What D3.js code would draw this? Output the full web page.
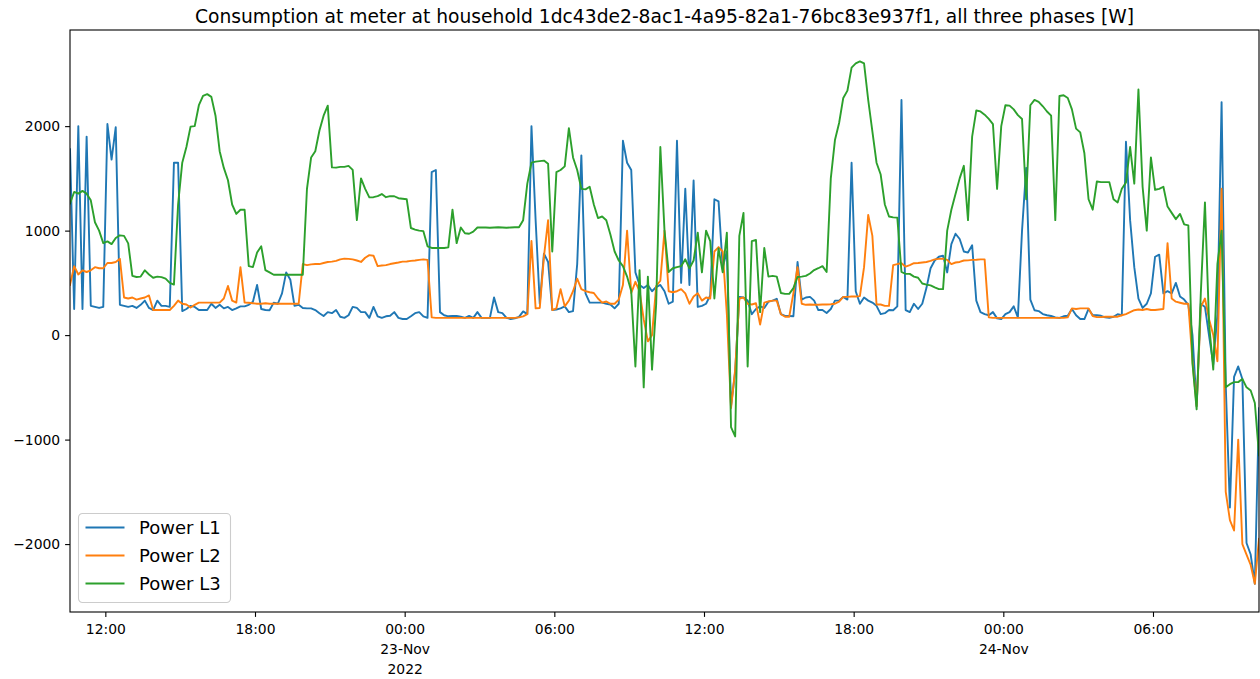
<!DOCTYPE html>
<html>
<head>
<meta charset="utf-8">
<script src="https://cdn.jsdelivr.net/npm/d3@7"></script>
<style>
  html, body { margin: 0; padding: 0; background: #ffffff; }
  svg { display: block; }
  text { font-family: "DejaVu Sans", sans-serif; fill: #000; }
</style>
</head>
<body>
<svg id="chart" width="1260" height="679"></svg>
<script>
// ---------- data ----------
const title = "Consumption at meter at household 1dc43de2-8ac1-4a95-82a1-76bc83e937f1, all three phases [W]";
const seriesNames = ["Power L1", "Power L2", "Power L3"];
const seriesColors = ["#1f77b4", "#ff7f0e", "#2ca02c"];
// samples every 10 minutes starting 2022-11-22 10:35
const startTime = [2022, 10, 22, 10, 35];
const stepMinutes = 10;

const powerL1 = [
  1780, 250, 2000, 250, 1900, 280, 270, 260, 270, 2020,
  1680, 1990, 290, 280, 270, 280, 260, 290, 330, 260,
  240, 330, 280, 280, 270, 1650, 1650, 230, 250, 280,
  270, 240, 240, 240, 300, 260, 290, 256, 270, 240,
  256, 275, 275, 290, 320, 480, 250, 240, 238, 311,
  300, 400, 600, 530, 280, 290, 260, 256, 256, 240,
  210, 183, 220, 210, 240, 176, 165, 190, 270, 260,
  220, 220, 165, 270, 180, 165, 180, 185, 220, 165,
  154, 154, 180, 210, 220, 180, 165, 1560, 1580, 220,
  190, 180, 183, 183, 176, 165, 183, 165, 220, 165,
  165, 165, 360, 220, 210, 165, 154, 160, 175, 227,
  201, 2000, 1100, 300, 780, 700, 240, 245, 256, 275,
  220, 230, 680, 1720, 400, 311, 311, 311, 311, 300,
  293, 256, 300, 1860, 1650, 1580, 600, 480, 450, 480,
  420, 460, 480, 420, 300, 320, 1860, 500, 1400, 480,
  1480, 270, 280, 300, 380, 1300, 1280, 650, 800, -680,
  -350, 366, 360, 330, 200, 250, 275, 260, 320, 330,
  348, 200, 183, 183, 180, 700, 340, 360, 366, 330,
  240, 240, 212, 250, 330, 330, 366, 340, 1650, 420,
  300, 360, 330, 311, 280, 201, 210, 240, 238, 275,
  2250, 240, 220, 300, 250, 300, 450, 640, 714, 750,
  760, 600, 870, 970, 920, 800, 790, 860, 330, 220,
  201, 190, 220, 160, 154, 200, 220, 275, 170, 1000,
  1600, 340, 238, 230, 201, 190, 183, 170, 165, 180,
  185, 250, 190, 154, 154, 250, 190, 190, 185, 170,
  165, 175, 200, 190, 1850, 1100, 650, 350, 260, 300,
  400, 750, 770, 400, 420, 400, 500, 370, 340, 290,
  0, -680, 300, 270, -10, -280, 200, 2230, -480, -1650,
  -400, -300, -420, -1990, -2100, -2380, -700
];

const powerL2 = [
  480, 660, 580, 620, 604, 620, 650, 640, 640, 690,
  690, 700, 730, 360, 350, 360, 340, 350, 360, 380,
  240, 240, 240, 240, 240, 280, 330, 300, 293, 264,
  290, 311, 311, 311, 311, 311, 311, 350, 470, 330,
  311, 650, 311, 310, 305, 300, 300, 305, 300, 300,
  300, 300, 300, 300, 300, 300, 680, 670, 677, 680,
  680, 690, 700, 703, 710, 725, 732, 730, 725, 714,
  700, 740, 765, 760, 660, 666, 670, 680, 688, 695,
  703, 705, 710, 714, 720, 725, 720, 170, 165, 165,
  165, 165, 165, 165, 165, 165, 165, 165, 165, 165,
  165, 165, 165, 165, 165, 165, 165, 165, 170, 180,
  200, 900, 256, 260, 750, 1100, 240, 256, 440, 275,
  330, 420, 540, 440, 421, 410, 403, 350, 311, 322,
  300, 300, 340, 480, 1000, 403, 510, 420, 150, -60,
  0, 470, 520, 1000, 420, 410, 420, 440, 400, 300,
  370, 400, 330, 360, 350, 800, 842, 800, 200, -700,
  -330, 350, 360, 300, 293, 305, 100, 310, 322, 330,
  330, 200, 176, 176, 400, 650, 300, 290, 293, 290,
  290, 293, 293, 295, 300, 320, 366, 366, 370, 370,
  373, 650, 1150, 950, 293, 293, 280, 280, 670, 680,
  688, 655, 670, 688, 690, 695, 700, 710, 725, 730,
  732, 720, 680, 695, 700, 714, 715, 720, 721, 725,
  725, 170, 165, 165, 165, 165, 165, 165, 165, 165,
  165, 165, 165, 165, 165, 165, 165, 165, 165, 165,
  170, 256, 250, 256, 256, 256, 183, 172, 172, 175,
  176, 176, 176, 190, 201, 220, 238, 245, 240, 250,
  240, 240, 245, 250, 880, 350, 320, 310, 300, 300,
  -250, -680, 270, 350, 150, 0, -250, 1400, -1500, -1770,
  -1870, -1000, -2000, -2100, -2200, -2380, -1950
];

const powerL3 = [
  1260, 1370, 1354, 1380, 1354, 1290, 1080, 1000, 880, 897,
  871, 930, 955, 950, 878, 567, 556, 560, 620, 580,
  549, 560, 555, 540, 500, 483, 1250, 1650, 1800, 1995,
  2000, 2200, 2290, 2306, 2280, 2100, 1760, 1600, 1482, 1250,
  1160, 1200, 1200, 660, 651, 790, 850, 622, 600, 578,
  578, 578, 578, 578, 578, 578, 578, 1400, 1700, 1760,
  1958, 2100, 2196, 1605, 1603, 1610, 1610, 1620, 1581, 1100,
  1500, 1400, 1318, 1320, 1330, 1350, 1320, 1330, 1329, 1310,
  1305, 1300, 1025, 1010, 1000, 995, 850, 834, 834, 834,
  834, 840, 1200, 880, 1030, 975, 970, 990, 1030, 1030,
  1030, 1028, 1030, 1032, 1030, 1028, 1030, 1032, 1032, 1100,
  1450, 1650, 1660, 1665, 1670, 1640, 800, 1560, 1580, 1615,
  1980, 1700, 1580, 1400, 1395, 1420, 1250, 1120, 1135, 1100,
  960, 800, 714, 660, 560, 420, -300, 620, -500, 560,
  -330, 300, 1800, 1000, 604, 640, 651, 660, 725, 640,
  714, 980, 600, 1000, 900, 350, 830, 600, 980, -880,
  -970, 950, 1170, -300, 900, 910, 220, 834, 560, 567,
  560, 403, 395, 395, 450, 556, 560, 567, 590, 622,
  640, 660, 604, 1500, 1867, 2030, 2270, 2340, 2560, 2600,
  2620, 2600, 2250, 1950, 1650, 1537, 1250, 1135, 1127, 1124,
  604, 586, 586, 560, 549, 494, 483, 476, 457, 440,
  440, 1000, 1200, 1350, 1500, 1620, 1100, 1900, 2150, 2141,
  2110, 2070, 2020, 1400, 2000, 2200, 2196, 2160, 2105, 2068,
  1300, 2200, 2251, 2233, 2190, 2140, 2100, 1100, 2288, 2295,
  2269, 2160, 1976, 1940, 1740, 1300, 1200, 1470, 1464, 1464,
  1464, 1300, 1270, 1400, 1460, 1800, 1450, 2350, 1420, 1000,
  1700, 1391, 1400, 1420, 1230, 1170, 1110, 1160, 1060, 1050,
  -270, -710, 400, 1270, 100, -330, 680, 1000, -500, -470,
  -450, -450, -420, -500, -530, -650, -1150
];

const yDomain = [-2650, 2920];
const yTickValues = [-2000, -1000, 0, 1000, 2000];
// x tick labels (every 6 hours from 2022-11-22 12:00)
const xTickLabels = [
  ["12:00"], ["18:00"], ["00:00", "23-Nov", "2022"], ["06:00"],
  ["12:00"], ["18:00"], ["00:00", "24-Nov"], ["06:00"]
];
const xTickFirst = [2022, 10, 22, 12, 0];
const xTickStepHours = 6;

// ---------- layout ----------
const plot = { left: 70, right: 1259, top: 30, bottom: 612 };

const svg = d3.select("#chart");
const t0 = new Date(startTime[0], startTime[1], startTime[2], startTime[3], startTime[4]);
const allSeries = [powerL1, powerL2, powerL3];
const n = powerL1.length;
const times = d3.range(n).map(i => new Date(t0.getTime() + i * stepMinutes * 60000));

const x = d3.scaleTime()
  .domain([times[0], times[n - 1]])
  .range([plot.left, plot.right]);
const y = d3.scaleLinear()
  .domain(yDomain)
  .range([plot.bottom, plot.top]);

// clip
svg.append("defs").append("clipPath").attr("id", "clip")
  .append("rect")
  .attr("x", plot.left).attr("y", plot.top)
  .attr("width", plot.right - plot.left).attr("height", plot.bottom - plot.top);

// lines
const line = d3.line()
  .x((d, i) => x(times[i]))
  .y(d => y(d));

const gLines = svg.append("g").attr("clip-path", "url(#clip)");
allSeries.forEach((s, k) => {
  gLines.append("path")
    .datum(s)
    .attr("fill", "none")
    .attr("stroke", seriesColors[k])
    .attr("stroke-width", 1.9)
    .attr("stroke-linejoin", "round")
    .attr("stroke-linecap", "square")
    .attr("d", line);
});

// y axis
const yAxis = d3.axisLeft(y)
  .tickValues(yTickValues)
  .tickSize(4.9)
  .tickPadding(4.9)
  .tickFormat(d => (d < 0 ? "\u2212" : "") + Math.abs(d));
const gy = svg.append("g")
  .attr("transform", `translate(${plot.left},0)`)
  .call(yAxis);
gy.select(".domain").remove();
gy.selectAll("line").attr("stroke", "#000").attr("stroke-width", 1.1);
gy.selectAll("text")
  .style("font-family", "'DejaVu Sans', sans-serif")
  .style("font-size", "13.9px")
  .attr("fill", "#000");

// x axis
const tickStart = new Date(xTickFirst[0], xTickFirst[1], xTickFirst[2], xTickFirst[3], xTickFirst[4]);
const xTickDates = xTickLabels.map((_, i) => new Date(tickStart.getTime() + i * xTickStepHours * 3600000));
const xAxis = d3.axisBottom(x)
  .tickValues(xTickDates)
  .tickSize(4.9)
  .tickFormat("");
const gx = svg.append("g")
  .attr("transform", `translate(0,${plot.bottom})`)
  .call(xAxis);
gx.select(".domain").remove();
gx.selectAll("line").attr("stroke", "#000").attr("stroke-width", 1.1);
gx.selectAll(".tick").each(function (d, i) {
  const t = d3.select(this).append("text")
    .attr("text-anchor", "middle")
    .style("font-size", "13.9px")
    .attr("fill", "#000");
  xTickLabels[i].forEach((lbl, j) => {
    t.append("tspan").attr("x", 0).attr("y", 21.5 + j * 20).text(lbl);
  });
});

// spines
svg.append("rect")
  .attr("x", plot.left).attr("y", plot.top)
  .attr("width", plot.right - plot.left).attr("height", plot.bottom - plot.top)
  .attr("fill", "none").attr("stroke", "#000").attr("stroke-width", 1.1);

// title
svg.append("text")
  .attr("x", (plot.left + plot.right) / 2)
  .attr("y", 23)
  .attr("text-anchor", "middle")
  .style("font-size", "18.7px")
  .text(title);

// legend
const leg = svg.append("g").attr("transform", "translate(78.5,513.5)");
leg.append("rect")
  .attr("width", 152).attr("height", 89)
  .attr("rx", 4).attr("ry", 4)
  .attr("fill", "#ffffff").attr("fill-opacity", 0.8)
  .attr("stroke", "#cccccc").attr("stroke-width", 1.1);
seriesNames.forEach((name, k) => {
  const yy = 14 + k * 28;
  leg.append("line")
    .attr("x1", 7).attr("x2", 46).attr("y1", yy).attr("y2", yy)
    .attr("stroke", seriesColors[k]).attr("stroke-width", 1.9);
  leg.append("text")
    .attr("x", 60.5).attr("y", yy + 6.5)
    .style("font-size", "18px")
    .text(name);
});
</script>
</body>
</html>
